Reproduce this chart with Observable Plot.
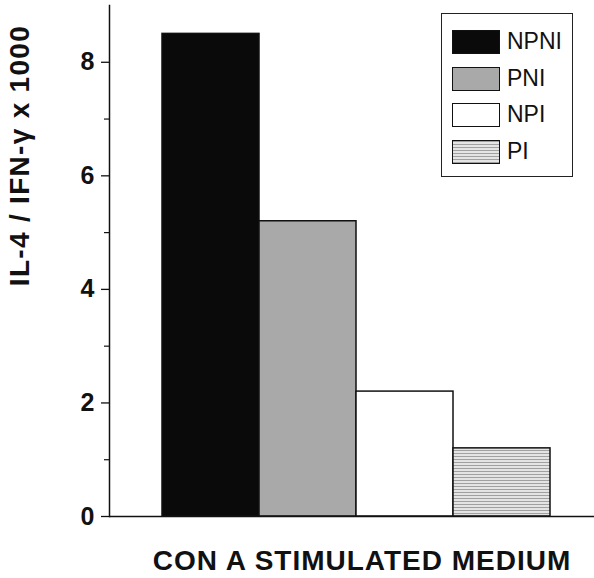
<!DOCTYPE html>
<html><head><meta charset="utf-8">
<script src="https://cdn.jsdelivr.net/npm/d3@7"></script>
<script src="https://cdn.jsdelivr.net/npm/@observablehq/plot@0.6"></script>
<style>
body{margin:0;background:#fff;font-family:"Liberation Sans",Arial,sans-serif;}
#wrap{position:relative;width:594px;height:578px;}
#legend{position:absolute;left:441px;top:13px;width:132px;height:164px;border:1.5px solid #222;box-sizing:border-box;background:#fff;}
.item{position:absolute;left:10px;height:25px;display:flex;align-items:center;font-size:23px;color:#111;}
.sw{width:48px;height:24px;border:1.5px solid #111;margin-right:7px;box-sizing:border-box;}
</style></head>
<body><div id="wrap"></div>
<script>
const groups = ["NPNI","PNI","NPI","PI"];
const ratios = [8.5, 5.2, 2.2, 1.2];
const fills = ["#0a0a0a","#a9a9a9","#ffffff","url(#piPattern)"];
const majorTicks = [0,2,4,6,8];
const minorTicks = [1,3,5,7];
const yLabel = "IL-4 / IFN-γ x 1000";
const xLabel = "CON A STIMULATED MEDIUM";

const data = groups.map((g,i)=>({group:g, value:ratios[i], fill:fills[i]}));

const plot = Plot.plot({
  width: 594, height: 578,
  marginLeft: 109, marginTop: 5, marginBottom: 62, marginRight: 0,
  style: {fontFamily: "Liberation Sans, Arial, sans-serif", background: "#fff", color: "#111"},
  x: {domain: groups, range: [161, 551], padding: 0, axis: null},
  y: {domain: [0, 9], axis: null},
  marks: [
    Plot.barY(data, {x: "group", y: "value", fill: "fill", stroke: "#111", strokeWidth: 1.5}),
    Plot.ruleY([0], {stroke: "#111", strokeWidth: 1.5}),
    Plot.frame({anchor: "left", stroke: "#111", strokeWidth: 1.5}),
    Plot.axisY(majorTicks, {tickSize: 8, tickPadding: 7, tickFormat: "d", fontSize: 25, fontWeight: "bold", strokeWidth: 1.3, label: null}),
    Plot.axisY(minorTicks, {tickSize: 5, text: null, strokeWidth: 1.2, label: null}),
    Plot.text([yLabel], {frameAnchor: "top-left", dx: -87, dy: 150, rotate: -90, textAnchor: "middle", fontSize: 28, fontWeight: "bold", fill: "#111", className: "ylab"}),
    Plot.text([xLabel], {frameAnchor: "bottom", dx: 10, dy: 53, textAnchor: "middle", fontSize: 28, fontWeight: "bold", fill: "#111", className: "xlab"})
  ]
});

d3.select(plot).selectAll(".ylab text").style("letter-spacing", "1.3px").attr("transform", function(){ return d3.select(this).attr("transform"); });
d3.select(plot).selectAll(".xlab text").style("letter-spacing", "1px");
// shift y label left
d3.select(plot).selectAll("g.ylab").attr("transform", function(){ const t = d3.select(this).attr("transform") || ""; return t + " translate(-13,0)"; });

// pattern for PI
const defs = d3.select(plot).insert("defs", ":first-child");
const pat = defs.append("pattern").attr("id","piPattern").attr("patternUnits","userSpaceOnUse").attr("width",6).attr("height",3);
pat.append("rect").attr("width",6).attr("height",3).attr("fill","#e4e4e4");
pat.append("rect").attr("y",0).attr("width",6).attr("height",1).attr("fill","#a0a0a0");

const wrap = document.getElementById("wrap");
wrap.appendChild(plot);

// legend
const legend = document.createElement("div");
legend.id = "legend";
const tops = [15, 52, 88, 125];
groups.forEach((g,i)=>{
  const it = document.createElement("div");
  it.className = "item";
  it.style.top = tops[i] + "px";
  const sw = document.createElement("div");
  sw.className = "sw";
  if (g === "PI") {
    sw.style.background = "repeating-linear-gradient(to bottom,#a0a0a0 0 1px,#e4e4e4 1px 3px)";
  } else {
    sw.style.background = fills[i];
  }
  it.appendChild(sw);
  const t = document.createElement("span");
  t.textContent = g;
  it.appendChild(t);
  legend.appendChild(it);
});
wrap.appendChild(legend);
</script>
</body></html>
